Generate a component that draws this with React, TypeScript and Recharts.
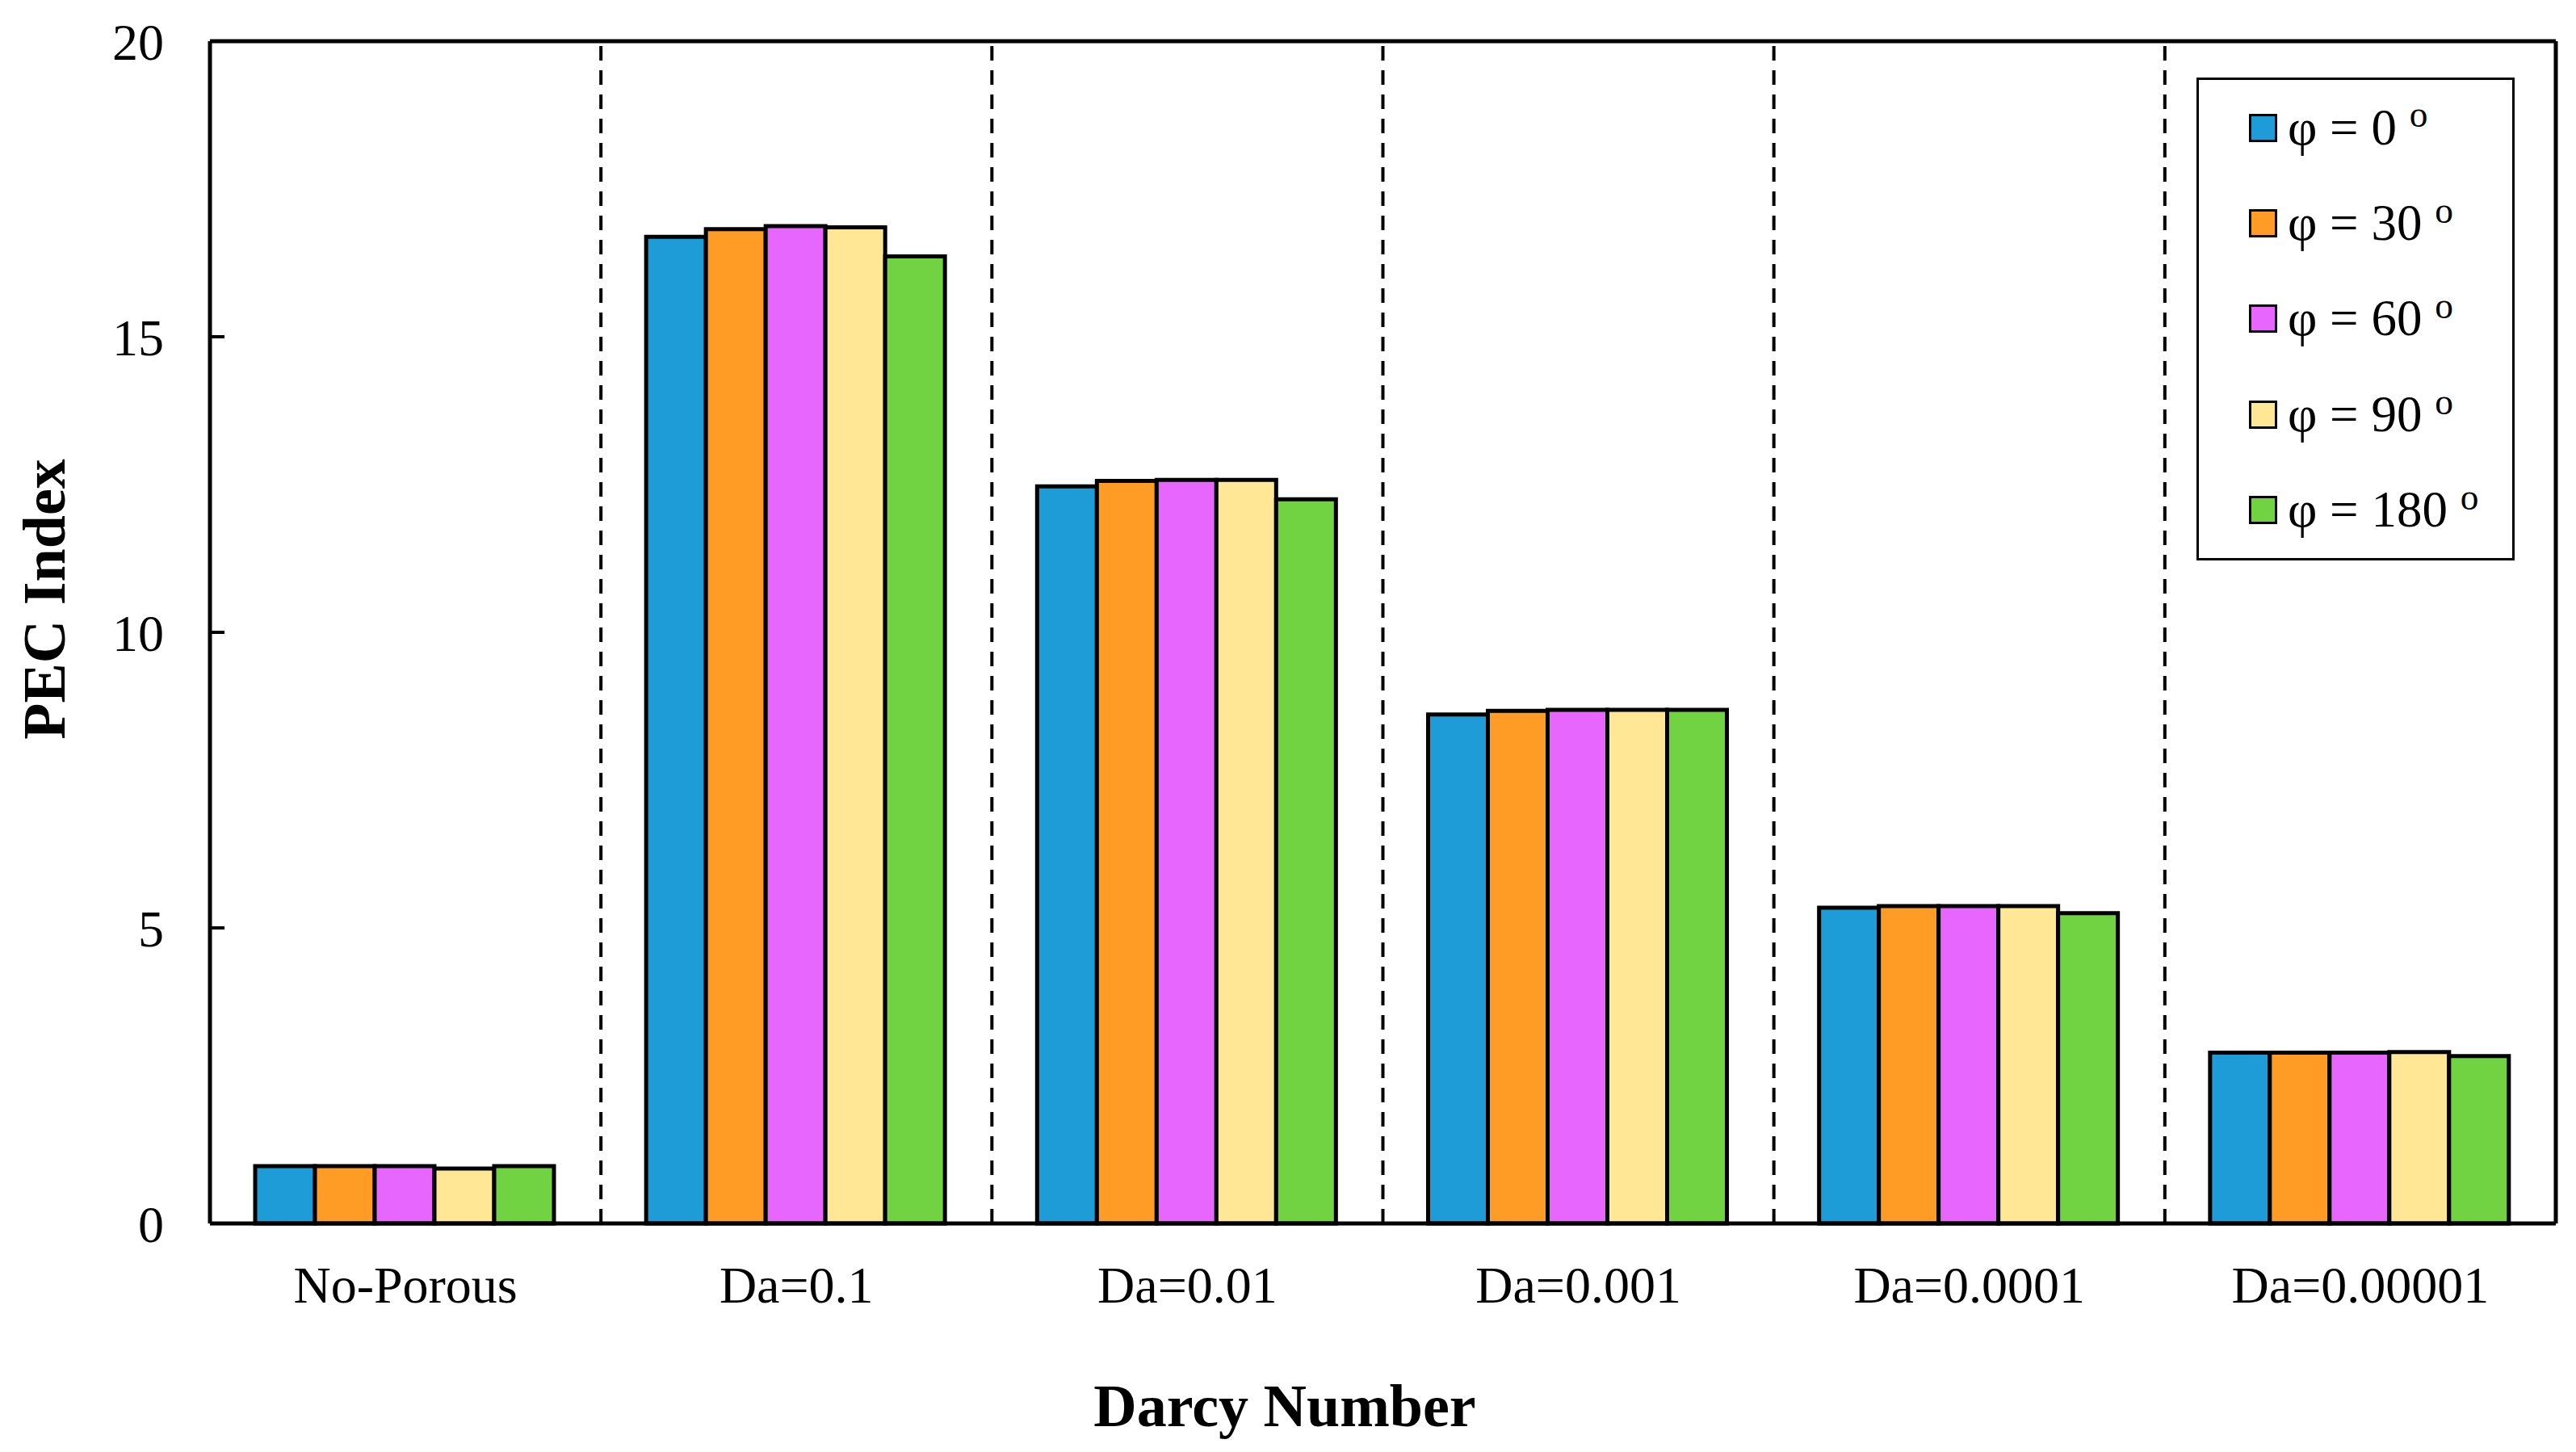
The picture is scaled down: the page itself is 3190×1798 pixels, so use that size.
import React from 'react';
import { BarChart, Bar, XAxis, YAxis, ReferenceLine, Legend, Label } from 'recharts';

const FONT = '"Liberation Serif", "Times New Roman", serif';
const PLOT_LEFT = 260;

// PEC index per Darcy number, one array per angle φ
const categories = ['No-Porous', 'Da=0.1', 'Da=0.01', 'Da=0.001', 'Da=0.0001', 'Da=0.00001'];
const phi0 = [0.97, 16.69, 12.47, 8.61, 5.34, 2.89];
const phi30 = [0.97, 16.82, 12.56, 8.67, 5.37, 2.89];
const phi60 = [0.97, 16.87, 12.58, 8.69, 5.37, 2.89];
const phi90 = [0.93, 16.85, 12.58, 8.69, 5.37, 2.9];
const phi180 = [0.97, 16.36, 12.25, 8.69, 5.25, 2.83];

const seriesKeys = ['p0', 'p30', 'p60', 'p90', 'p180'];
const seriesNames = ['φ = 0', 'φ = 30', 'φ = 60', 'φ = 90', 'φ = 180'];
const seriesColors = ['#1E9CD8', '#FF9C26', '#E767FE', '#FFE795', '#71D242'];
const seriesValues = [phi0, phi30, phi60, phi90, phi180];

const yTicks = [0, 5, 10, 15, 20];

const data = categories.map((name, i) => {
  const row: Record<string, string | number> = { name };
  seriesKeys.forEach((k, s) => {
    row[k] = seriesValues[s][i];
  });
  return row;
});

// eslint-disable-next-line @typescript-eslint/no-explicit-any
function PhiLegend({ payload }: any) {
  const items = [...(payload || [])].sort(
    (a: { value: string }, b: { value: string }) => seriesNames.indexOf(a.value) - seriesNames.indexOf(b.value),
  );
  return (
    <div
      style={{
        width: 394,
        height: 598,
        boxSizing: 'border-box',
        border: '3px solid #000',
        background: '#fff',
        fontFamily: FONT,
        fontSize: 63,
        lineHeight: 1,
        color: '#000',
      }}
    >
      {items.map((p: { value: string; color: string }) => (
        <div key={p.value} style={{ height: 118.4, display: 'flex', alignItems: 'center', paddingLeft: 62 }}>
          <span
            style={{
              display: 'inline-block',
              width: 29,
              height: 29,
              background: p.color,
              border: '3.5px solid #000',
              marginRight: 13,
            }}
          />
          <span style={{ whiteSpace: 'pre' }}>
            {p.value}{' '}
            <span style={{ fontSize: '0.72em', position: 'relative', top: '-0.47em' }}>o</span>
          </span>
        </div>
      ))}
    </div>
  );
}

// y tick: label left of the axis, short tick mark pointing into the plot
// eslint-disable-next-line @typescript-eslint/no-explicit-any
function YTick({ y, payload }: any) {
  return (
    <g>
      <line x1={PLOT_LEFT} x2={PLOT_LEFT + 18} y1={y} y2={y} stroke="#000" strokeWidth={4} />
      <text x={203} y={y} dy="0.355em" textAnchor="end" fontFamily={FONT} fontSize={64} fill="#000">
        {payload.value}
      </text>
    </g>
  );
}

export default function App() {
  return (
    <div style={{ position: 'absolute', left: 0, top: 0, background: '#fff' }}>
      <BarChart
        width={3190}
        height={1798}
        data={data}
        margin={{ top: 50, right: 24, left: 0, bottom: 0 }}
        barCategoryGap={56}
        barGap={0}
      >
        <XAxis
          dataKey="name"
          height={283}
          tickLine={false}
          tickSize={0}
          tickMargin={53}
          axisLine={{ stroke: '#000', strokeWidth: 5 }}
          tick={{ fill: '#000', fontSize: 64, fontFamily: FONT }}
          interval={0}
        >
          <Label
            content={() => (
              <text
                x={1591}
                y={1766}
                textAnchor="middle"
                fontFamily={FONT}
                fontSize={74}
                fontWeight="bold"
                fill="#000"
              >
                Darcy Number
              </text>
            )}
          />
        </XAxis>
        <XAxis
          xAxisId="top"
          dataKey="name"
          orientation="top"
          height={1}
          tick={false}
          tickLine={false}
          axisLine={{ stroke: '#000', strokeWidth: 5 }}
        />
        <YAxis
          width={PLOT_LEFT}
          domain={[0, 20]}
          ticks={yTicks}
          tickLine={false}
          axisLine={{ stroke: '#000', strokeWidth: 5 }}
          tick={<YTick />}
        >
          <Label
            content={() => (
              <text
                x={55}
                y={742}
                transform="rotate(-90, 55, 742)"
                textAnchor="middle"
                dominantBaseline="central"
                fontFamily={FONT}
                fontSize={74}
                fontWeight="bold"
                fill="#000"
              >
                PEC Index
              </text>
            )}
          />
        </YAxis>
        <YAxis
          yAxisId="right"
          orientation="right"
          width={1}
          domain={[0, 20]}
          tick={false}
          tickLine={false}
          axisLine={{ stroke: '#000', strokeWidth: 5 }}
        />
        {categories.slice(1).map((c) => (
          <ReferenceLine
            key={c}
            x={c}
            position="start"
            stroke="#000"
            strokeWidth={4}
            strokeDasharray="18 12"
          />
        ))}
        {seriesKeys.map((k, s) => (
          <Bar
            key={k}
            dataKey={k}
            name={seriesNames[s]}
            fill={seriesColors[s]}
            stroke="#000"
            strokeWidth={5}
            isAnimationActive={false}
          />
        ))}
        <Legend
          layout="horizontal"
          verticalAlign="middle"
          align="center"
          content={<PhiLegend />}
          wrapperStyle={{ position: 'absolute', left: 2720, top: 96, width: 394, height: 598 }}
        />
      </BarChart>
    </div>
  );
}
